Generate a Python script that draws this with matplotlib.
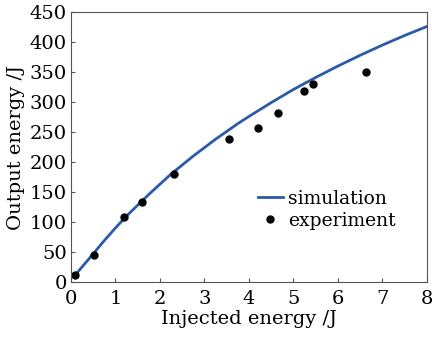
import matplotlib
matplotlib.use("Agg")
import matplotlib.pyplot as plt

# simulated curve
sim_x = [0.1, 0.25, 0.5, 0.75, 1.0, 1.25, 1.5, 1.75, 2.0, 2.25, 2.5, 2.75, 3.0, 3.25,
         3.5, 3.75, 4.0, 4.5, 5.0, 5.5, 6.0, 6.5, 7.0, 7.5, 8.0]
sim_y = [12, 25, 47, 69, 90, 110, 128, 146, 163, 180, 195, 210, 224, 238,
         251, 264, 276, 299, 321, 341, 360, 378, 395, 411, 426]

# measured points
exp_x = [0.09, 0.52, 1.19, 1.6, 2.31, 3.55, 4.2, 4.65, 5.24, 5.44, 6.63]
exp_y = [12, 45, 108, 133, 180, 238, 257, 282, 318, 330, 350]

plt.rcParams['font.family'] = ['DejaVu Serif']
plt.rcParams['mathtext.fontset'] = 'dejavuserif'

fig = plt.figure(figsize=(4.32, 3.37), dpi=100)
ax = fig.add_axes([0.164, 0.163, 0.824, 0.801])

ax.plot(sim_x, sim_y, color='#2a5aa8', lw=2, label='simulation')
ax.plot(exp_x, exp_y, 'o', color='black', ms=5, label='experiment')

ax.set_xlim(0, 8)
ax.set_ylim(0, 450)
ax.set_xticks(range(0, 9))
ax.set_yticks(range(0, 451, 50))
ax.tick_params(axis='both', direction='in', length=3, labelsize=14, color='#555555')
ax.tick_params(axis='x', pad=6)
ax.tick_params(axis='y', pad=3)
for s in ax.spines.values():
    s.set_color('#555555')

ax.set_xlabel('Injected energy /J', fontsize=14, labelpad=1)
ax.set_ylabel('Output energy /J', fontsize=14, labelpad=3)

ax.legend(loc='center left', bbox_to_anchor=(0.525, 0.268), frameon=False, fontsize=13.5,
          handlelength=1.33, handletextpad=0.27, labelspacing=0.2, borderpad=0,
          borderaxespad=0)

fig.savefig('out.png', dpi=100)
